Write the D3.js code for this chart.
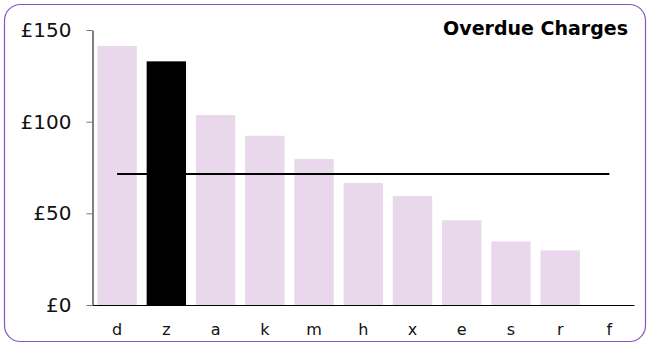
<!DOCTYPE html>
<html><head><meta charset="utf-8">
<script src="https://cdn.jsdelivr.net/npm/d3@7"></script>
<style>html,body{margin:0;padding:0;background:#fff;}svg{display:block;}</style>
</head><body>
<svg id="chart" width="647" height="344"></svg>
<script>
const categories = ["d","z","a","k","m","h","x","e","s","r","f"];
const values = [141.3, 132.9, 103.6, 92.3, 79.6, 66.5, 59.5, 46.2, 34.7, 29.8, 0];
const highlighted = ["z"];
const averageValue = [71.5];
const yTicks = [0, 50, 100, 150];
const title = "Overdue Charges";

const svg = d3.select("#chart");
const W = 647, H = 344;
const m = {left: 92.5, right: 13, top: 30, bottom: 39};
const font = "'DejaVu Sans', Verdana, sans-serif";

svg.append("rect").attr("x", 4.5).attr("y", 4.5).attr("width", 641).attr("height", 337)
  .attr("rx", 16).attr("fill", "#fff").attr("stroke", "#8855c0").attr("stroke-width", 1.2);

const x = d3.scaleBand().domain(categories).range([m.left, W - m.right]).paddingInner(0.2).paddingOuter(0.1);
const y = d3.scaleLinear().domain([0, 150]).range([H - m.bottom, m.top]);

const data = categories.map((c, i) => ({c, v: values[i]}));

svg.append("g").selectAll("rect").data(data).join("rect")
  .attr("x", d => x(d.c)).attr("width", x.bandwidth())
  .attr("y", d => y(d.v)).attr("height", d => y(0) - y(d.v))
  .attr("fill", d => highlighted.includes(d.c) ? "#000" : "#e9d8eb");

// average line
svg.append("line")
  .attr("x1", x(categories[0]) + x.bandwidth()/2)
  .attr("x2", x(categories[categories.length-1]) + x.bandwidth()/2)
  .attr("y1", y(averageValue[0])).attr("y2", y(averageValue[0]))
  .attr("stroke", "#000").attr("stroke-width", 2);

// y axis
const yAxis = svg.append("g").attr("transform", `translate(${m.left},0)`)
  .call(d3.axisLeft(y).tickValues(yTicks).tickSize(6).tickSizeOuter(0).tickPadding(15).tickFormat(d => "£" + d));
yAxis.select(".domain").attr("stroke", "#000");
yAxis.selectAll(".tick line").attr("stroke", "#777");
yAxis.selectAll("text").attr("font-family", font).attr("font-size", 20).attr("fill", "#111");

// x axis
const xAxis = svg.append("g").attr("transform", `translate(0,${y(0)})`)
  .call(d3.axisBottom(x).tickSize(0).tickSizeOuter(0).tickPadding(18.5));
xAxis.select(".domain").attr("stroke", "#000");
xAxis.selectAll("text").attr("font-family", font).attr("font-size", 16).attr("fill", "#111");

svg.append("text").attr("x", 628).attr("y", 35).attr("text-anchor", "end")
  .attr("font-family", font).attr("font-weight", "bold").attr("font-size", 19)
  .attr("fill", "#000").text(title);
</script>
</body></html>
